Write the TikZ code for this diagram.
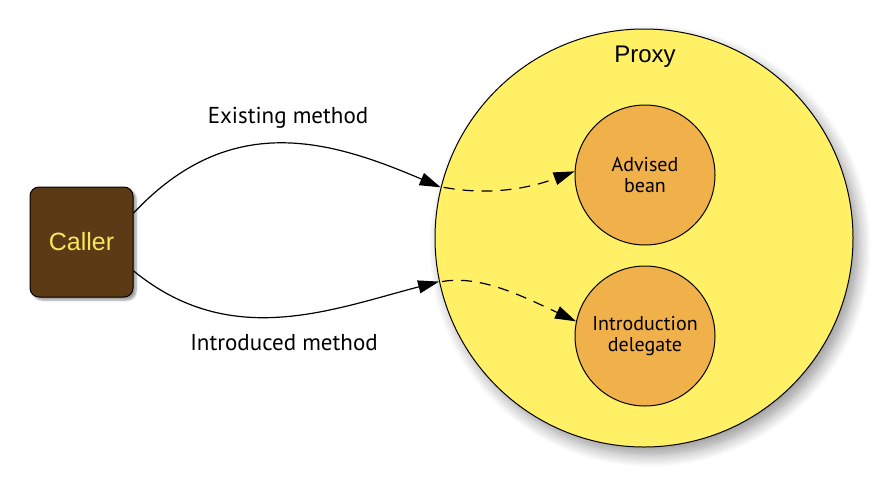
\documentclass[tikz,border=0pt]{standalone}
\usepackage{fontspec}
\setmainfont{PT Sans}
\newfontfamily\arialfont{Liberation Sans}
\usepackage{tikz}
\usetikzlibrary{arrows.meta,shadows.blur}

\definecolor{proxyyellow}{RGB}{255,240,102}
\definecolor{beanorange}{RGB}{240,176,74}
\definecolor{callerbrown}{RGB}{92,58,22}
\definecolor{callertext}{RGB}{246,232,92}

\begin{document}
\begin{tikzpicture}[x=1pt,y=-1pt,>={Triangle[length=21pt,width=13pt]},line width=1.2pt]
\tikzstyle{every bean}=[circle,draw=black,line width=1pt,fill=beanorange,minimum size=140pt,inner sep=0pt,align=center,font=\fontsize{20}{21}\selectfont]
\tikzstyle{method label}=[font=\fontsize{23}{26}\selectfont]
\useasboundingbox (0,0) rectangle (886,483);
% caller and proxy
\node[draw=black,line width=1pt,fill=callerbrown,rounded corners=9pt,minimum width=103pt,minimum height=110pt,
      blur shadow={shadow xshift=3pt,shadow yshift=-3pt,shadow blur steps=6},
      text=callertext,font=\arialfont\fontsize{25}{27}\selectfont] (caller) at (81.5,242) {Caller};
\node[circle,draw=black,line width=1pt,fill=proxyyellow,minimum size=418pt,inner sep=0pt,
      blur shadow={shadow xshift=6pt,shadow yshift=-8pt,shadow blur steps=10,shadow blur radius=12pt}] (proxy) at (644,238) {};
\node[font=\arialfont\fontsize{24}{26}\selectfont] (proxylabel) at (645,57) {Proxy};
\node[every bean] (bean) at (645,175) {Advised\\bean};
\node[every bean] (delegate) at (645,336) {Introduction\\delegate};
% method labels
\node[method label] (existing) at (288,118) {Existing method};
\node[method label] (introduced) at (284,343) {Introduced method};
% calls
\draw[->] (caller.29) .. controls (230,110) and (330,140) .. (proxy.166);
\draw[->] (caller.-29) .. controls (230,350) and (330,310) .. (proxy.192);
\draw[->,dashed,dash pattern=on 11pt off 8pt] ([xshift=3pt]proxy.166) .. controls (490,196) and (530,188) .. (bean.177);
\draw[->,dashed,dash pattern=on 11pt off 8pt] ([xshift=3pt]proxy.192) .. controls (480,275) and (520,295) .. (delegate.168);
\end{tikzpicture}
\end{document}
